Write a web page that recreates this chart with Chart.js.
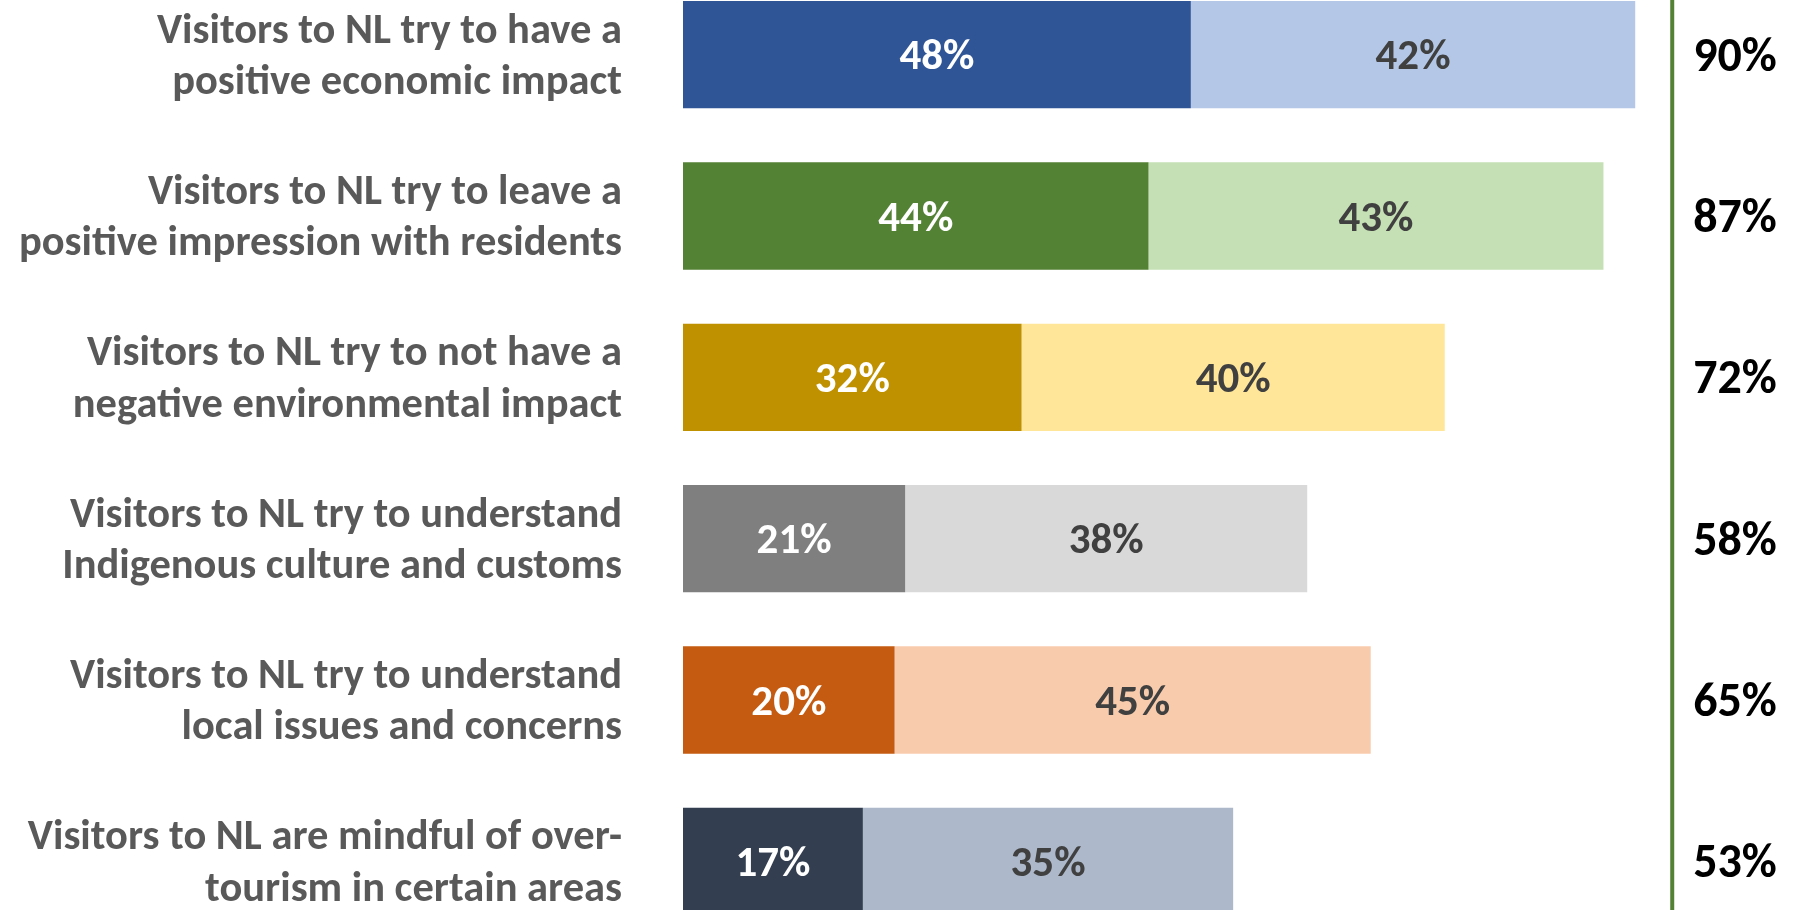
<!DOCTYPE html>
<html>
<head>
<meta charset="utf-8">
<script src="https://cdn.jsdelivr.net/npm/chart.js@4"></script>
<style>
  html, body { margin: 0; padding: 0; background: #fff; overflow: hidden; }
  #wrap { position: absolute; left: 0; top: -26px; }
</style>
</head>
<body>
<div id="wrap"><canvas id="agreeChart" width="1795" height="968"></canvas></div>
<script>
// statements, one bar each
const statements = [
    ['Visitors to NL try to have a', 'positive economic impact'],
    ['Visitors to NL try to leave a', 'positive impression with residents'],
    ['Visitors to NL try to not have a', 'negative environmental impact'],
    ['Visitors to NL try to understand', 'Indigenous culture and customs'],
    ['Visitors to NL try to understand', 'local issues and concerns'],
    ['Visitors to NL are mindful of over-', 'tourism in certain areas']
];
const stronglyAgree = [48, 44, 32, 21, 20, 17];
const somewhatAgree = [42, 43, 40, 38, 45, 35];
const totalAgree = [90, 87, 72, 58, 65, 53];

const darkColors = ['#2F5597', '#548235', '#BF9000', '#7F7F7F', '#C55A11', '#333F50'];
const lightColors = ['#B4C7E7', '#C5E0B4', '#FFE699', '#D9D9D9', '#F8CBAD', '#ADB9CA'];

const FONT = "Carlito, 'Liberation Sans Narrow', 'Open Sans', sans-serif";

// percentage text in the middle of each segment
const segmentLabels = {
    id: 'segmentLabels',
    afterDatasetsDraw(chart) {
        const ctx = chart.ctx;
        ctx.save();
        ctx.font = 'bold 43px ' + FONT;
        ctx.textAlign = 'center';
        ctx.textBaseline = 'middle';
        chart.data.datasets.forEach((ds, di) => {
            const meta = chart.getDatasetMeta(di);
            ctx.fillStyle = di === 0 ? '#FFFFFF' : '#404040';
            meta.data.forEach((bar, i) => {
                const cx = (bar.x + bar.base) / 2;
                ctx.fillText(ds.data[i] + '%', cx, bar.y + 4);
            });
        });
        ctx.restore();
    }
};

// green divider and the total column on the right
const totalsColumn = {
    id: 'totalsColumn',
    afterDraw(chart) {
        const ctx = chart.ctx;
        const xs = chart.scales.x;
        const ys = chart.scales.y;
        const lineX = xs.getPixelForValue(93.5);
        ctx.save();
        ctx.strokeStyle = '#548235';
        ctx.lineWidth = 4;
        ctx.beginPath();
        ctx.moveTo(lineX, 0);
        ctx.lineTo(lineX, chart.height);
        ctx.stroke();

        ctx.font = 'bold 48px ' + FONT;
        ctx.fillStyle = '#000000';
        ctx.textAlign = 'center';
        ctx.textBaseline = 'middle';
        totalAgree.forEach((t, i) => {
            ctx.fillText(t + '%', 1735, ys.getPixelForValue(i) + 4);
        });
        ctx.restore();
    }
};

const ctx = document.getElementById('agreeChart').getContext('2d');
const agreeChart = new Chart(ctx, {
    type: 'bar',
    data: {
        labels: statements,
        datasets: [{
            label: 'Strongly agree',
            data: stronglyAgree,
            backgroundColor: darkColors,
            borderWidth: 0
        }, {
            label: 'Somewhat agree',
            data: somewhatAgree,
            backgroundColor: lightColors,
            borderWidth: 0
        }]
    },
    options: {
        indexAxis: 'y',
        responsive: false,
        animation: false,
        devicePixelRatio: 1,
        layout: { padding: { left: 0, right: 54, top: 0, bottom: 0 } },
        datasets: {
            bar: { categoryPercentage: 1, barPercentage: 0.665 }
        },
        plugins: {
            legend: { display: false },
            tooltip: { enabled: false }
        },
        scales: {
            x: {
                stacked: true,
                min: 0,
                max: 100,
                display: false
            },
            y: {
                stacked: true,
                grid: { display: false, drawTicks: false },
                border: { display: false },
                afterFit(scale) {
                    scale.width = 683;
                    scale.paddingTop = 0;
                    scale.paddingBottom = 0;
                },
                ticks: {
                    padding: 61,
                    labelOffset: 3,
                    color: '#595959',
                    font: { family: FONT, size: 42.5, weight: 'bold', lineHeight: 1.21 }
                }
            }
        }
    },
    plugins: [segmentLabels, totalsColumn]
});
</script>
</body>
</html>
